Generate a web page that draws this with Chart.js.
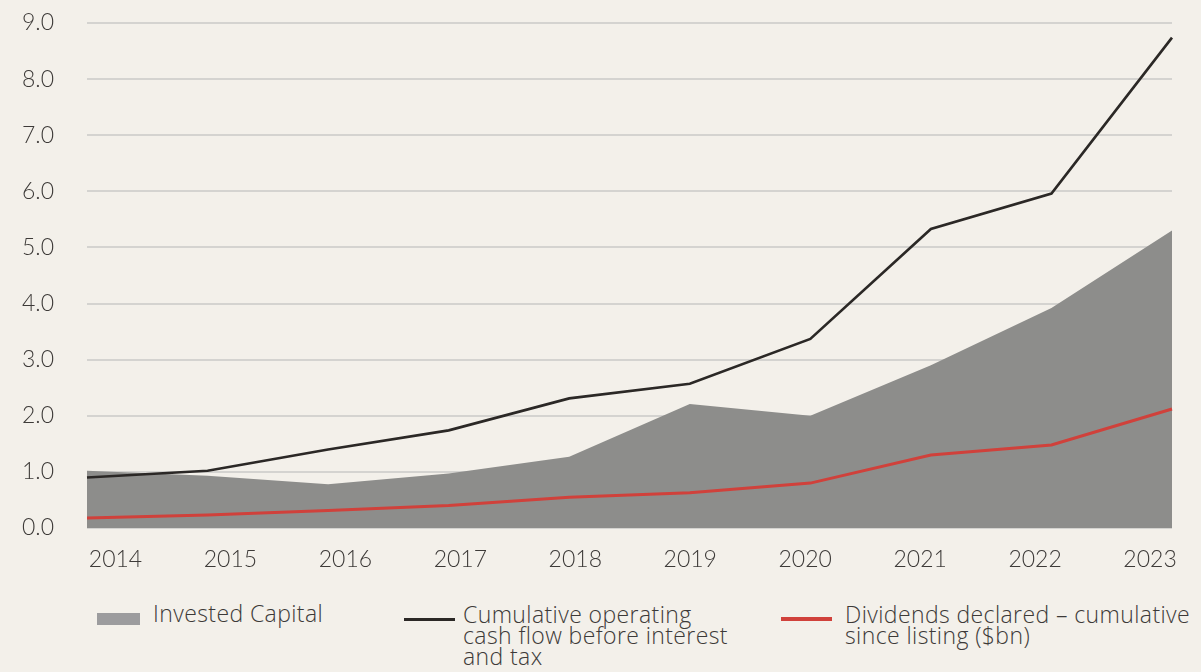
<!DOCTYPE html>
<html>
<head>
<meta charset="utf-8">
<script src="https://cdn.jsdelivr.net/npm/chart.js@4/dist/chart.umd.min.js"></script>
<style>
  html, body { margin: 0; padding: 0; background: #f3f0ea; }
  #wrap { position: relative; width: 1201px; height: 672px; overflow: hidden; font-family: "Open Sans", sans-serif; font-weight: 300; color: #3d3a38; }
  #cv { position: absolute; left: 0; top: 0; }
  .lg { position: absolute; font-size: 23px; line-height: 21px; letter-spacing: 0.4px; white-space: nowrap; }
  .sw { position: absolute; }
</style>
</head>
<body>
<div id="wrap">
  <canvas id="cv" width="1201" height="590"></canvas>
  <div class="sw" style="left:97px; top:613px; width:43px; height:12px; background:#9c9c9e;"></div>
  <div class="lg" style="left:153px; top:603px;">Invested Capital</div>
  <div class="sw" style="left:404px; top:618px; width:51px; height:2.5px; background:#2b2826;"></div>
  <div class="lg" style="left:463px; top:604px;">Cumulative operating<br>cash flow before interest<br>and tax</div>
  <div class="sw" style="left:781px; top:617px; width:51px; height:4px; background:#d0413b;"></div>
  <div class="lg" style="left:845px; top:604px;">Dividends declared – cumulative<br>since listing ($bn)</div>
</div>
<script>
// ---- data ----
const years = ["2014","2015","2016","2017","2018","2019","2020","2021","2022","2023"];
const investedCapital = [1.02, 0.93, 0.78, 0.97, 1.27, 2.21, 2.00, 2.90, 3.92, 5.30];
const operatingCashFlow = [0.90, 1.02, 1.40, 1.74, 2.31, 2.57, 3.37, 5.33, 5.96, 8.74];
const dividends = [0.18, 0.23, 0.31, 0.40, 0.55, 0.63, 0.80, 1.30, 1.48, 2.12];
const yTicks = [0, 1, 2, 3, 4, 5, 6, 7, 8, 9];

const FONT = { family: "Lato", size: 23, weight: 300 };
const TXT = "#3d3a38";

new Chart(document.getElementById("cv"), {
  type: "line",
  data: {
    labels: years,
    datasets: [
      { label: "Cumulative operating cash flow before interest and tax", data: operatingCashFlow,
        borderColor: "#2b2826", borderWidth: 2.6, pointRadius: 0, tension: 0, fill: false, order: 1 },
      { label: "Dividends declared – cumulative since listing ($bn)", data: dividends,
        borderColor: "#d0413b", borderWidth: 3, pointRadius: 0, tension: 0, fill: false, order: 2 },
      { label: "Invested Capital", data: investedCapital,
        borderWidth: 0, borderColor: "rgba(0,0,0,0)", backgroundColor: "#8d8d8b",
        pointRadius: 0, tension: 0, fill: "origin", order: 3 }
    ]
  },
  options: {
    responsive: false,
    animation: false,
    events: [],
    layout: { padding: { top: 23, right: 29, bottom: 0, left: 0 } },
    plugins: { legend: { display: false }, tooltip: { enabled: false } },
    scales: {
      x: { type: "category", display: false, offset: false },
      xl: {
        type: "linear", position: "bottom",
        min: 2013.752, max: 2023.191,
        grid: { display: false }, border: { display: false },
        afterBuildTicks: (s) => { s.ticks = years.map((y) => ({ value: Number(y) })); },
        afterFit: (s) => { s.height = 62; },
        ticks: { color: TXT, font: FONT, padding: 10, maxRotation: 0, autoSkip: false,
                 callback: (v, i) => years[i] }
      },
      y: {
        min: 0, max: 9, z: 1,
        afterBuildTicks: (s) => { s.ticks = yTicks.map((v) => ({ value: v })); },
        afterFit: (s) => { s.width = 87; },
        border: { display: false },
        grid: { color: "rgba(105,110,118,0.22)", lineWidth: 2, drawTicks: true, tickLength: 33, tickColor: "rgba(0,0,0,0)" },
        ticks: { color: TXT, font: FONT, padding: 0, callback: (v) => Number(v).toFixed(1) }
      }
    }
  }
});
</script>
</body>
</html>
